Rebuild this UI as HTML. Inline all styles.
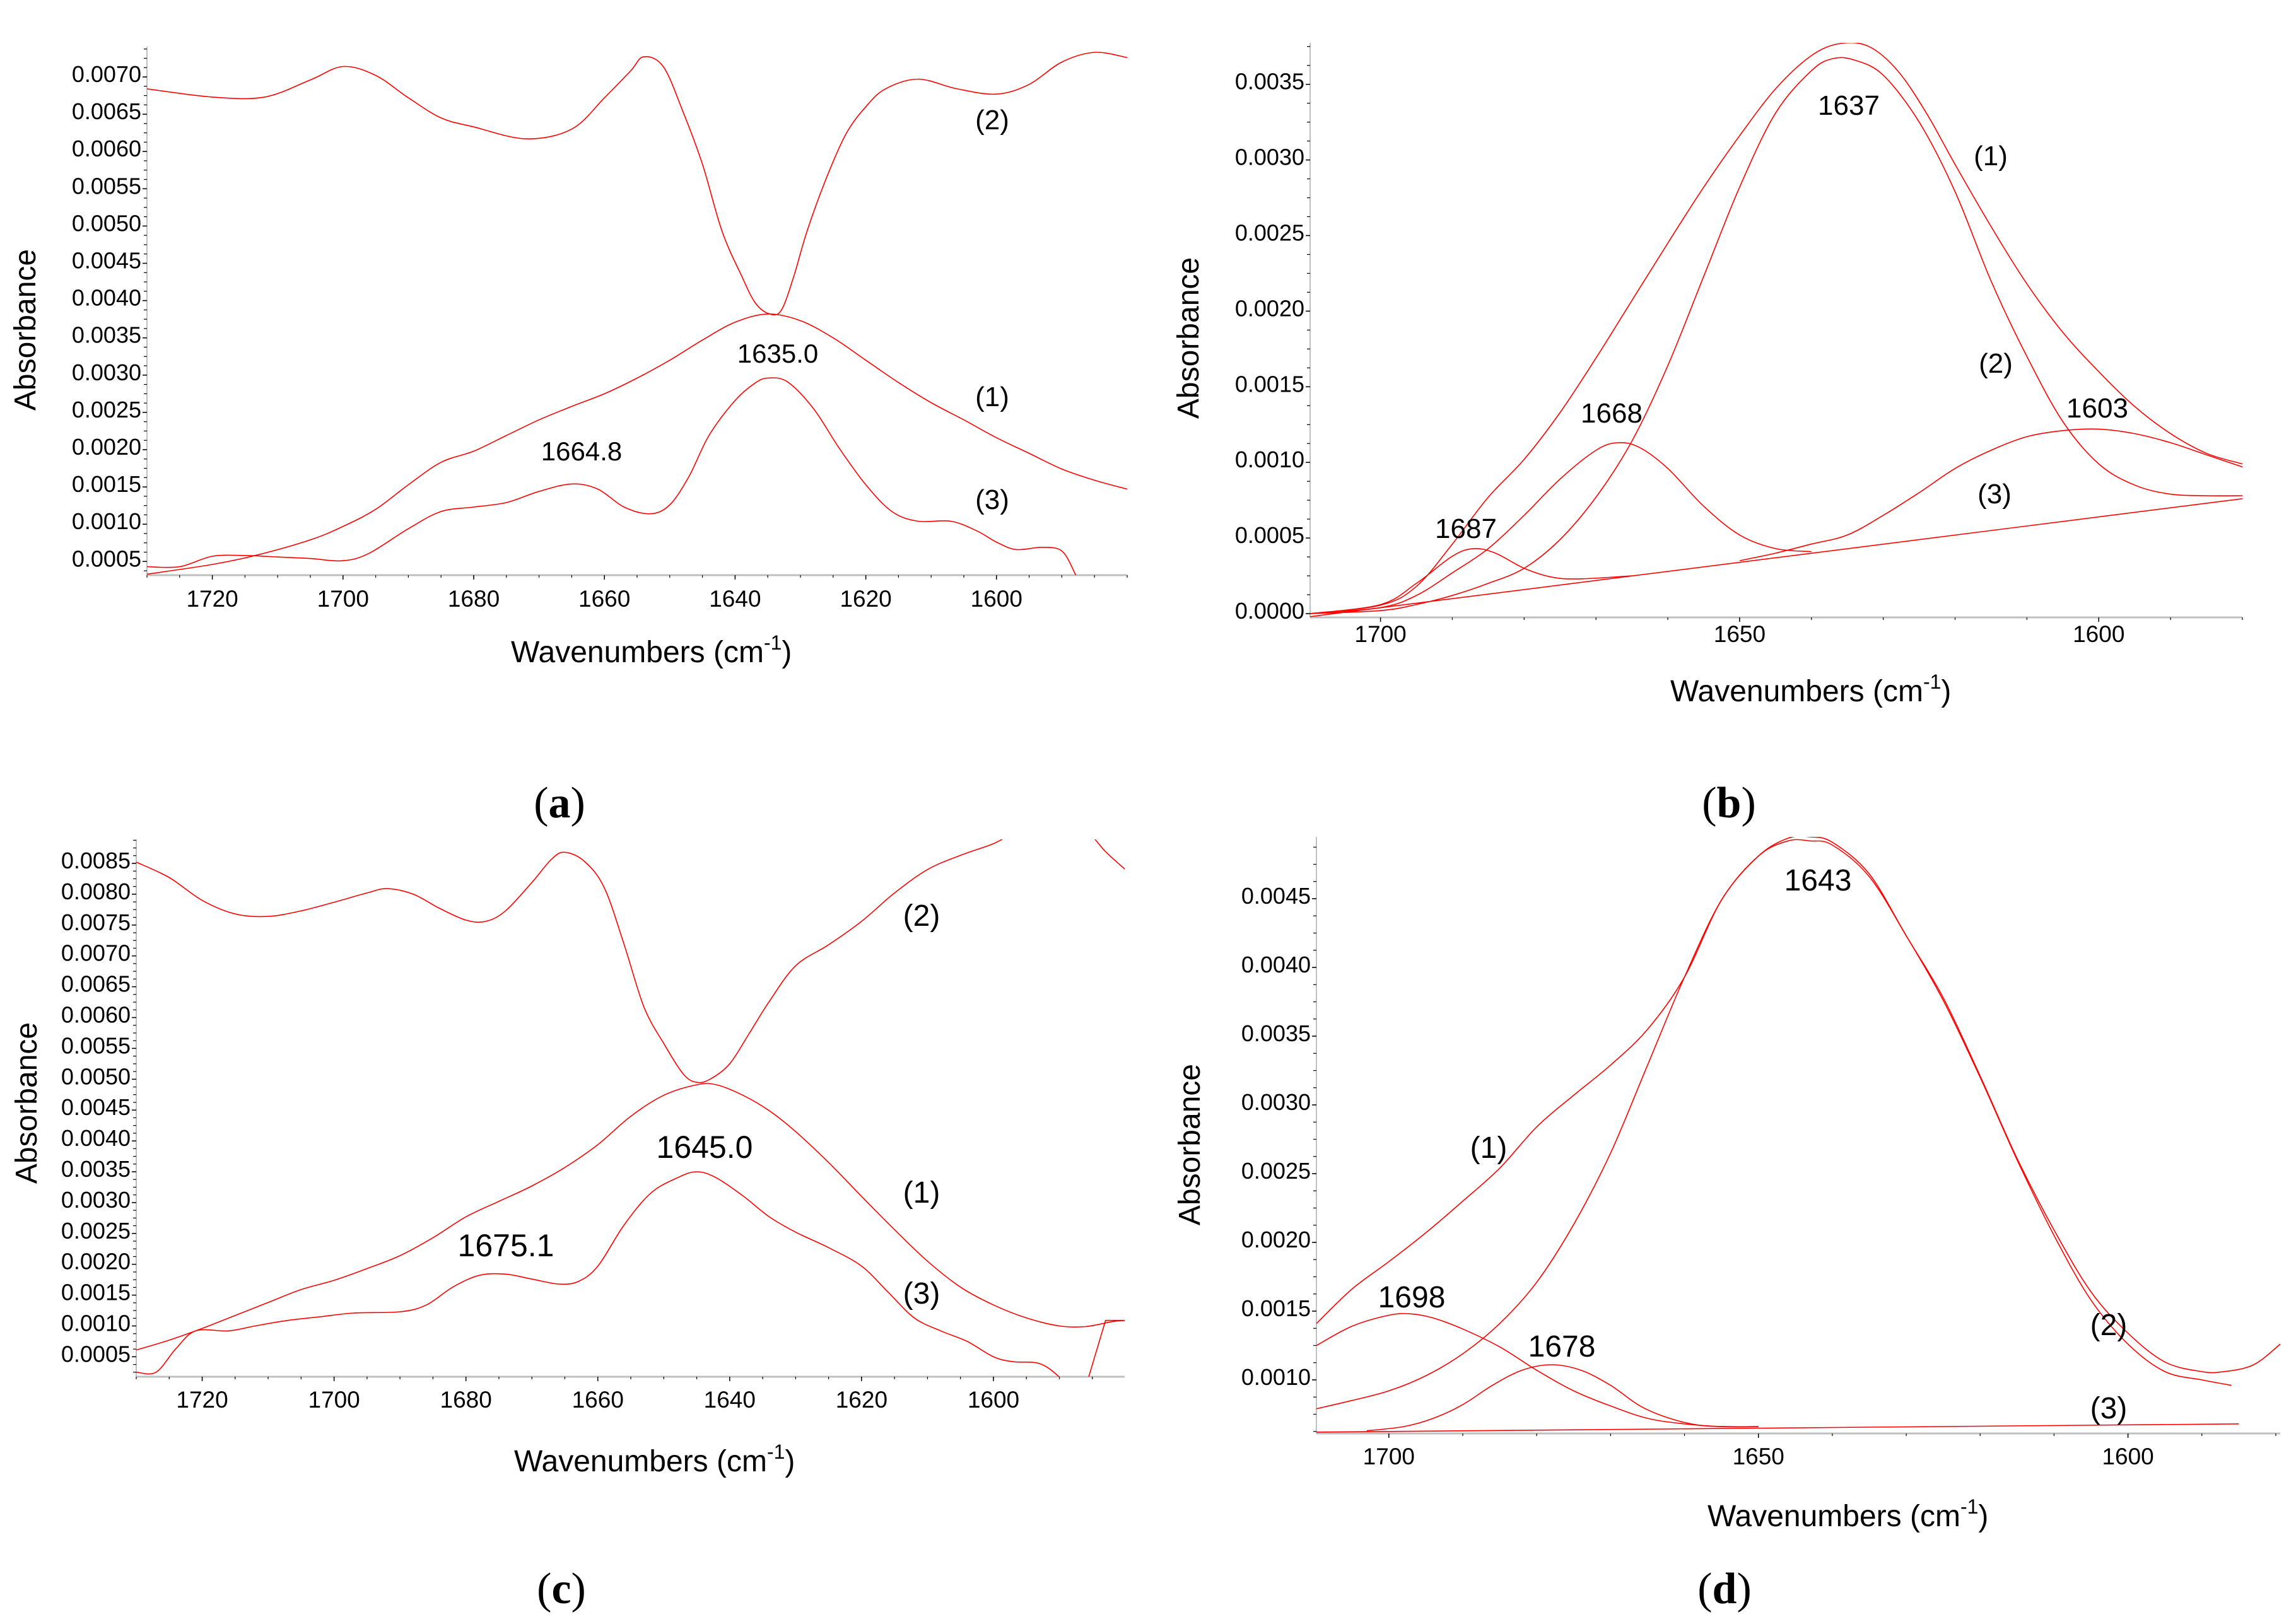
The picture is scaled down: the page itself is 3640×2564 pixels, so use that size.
<!DOCTYPE html>
<html><head><meta charset="utf-8"><style>
html,body{margin:0;padding:0;background:#fff;}
svg{display:block;font-family:"Liberation Sans",sans-serif;}
</style></head><body>
<svg id="fig" width="3640" height="2564" viewBox="0 0 3640 2564" xmlns="http://www.w3.org/2000/svg">
<rect width="3640" height="2564" fill="#fff"/>
</svg>
<script>
// ---------- Panel (a) data ----------
const aWn2=[1730,1720,1712,1705,1700,1695,1690,1685,1680,1672,1665,1660,1656,1654,1651,1648,1645,1642,1639,1637,1635,1633,1631,1629,1626,1623,1620,1617,1612,1606,1600,1595,1590,1585,1580];
const aV2=[.00684,.00673,.00673,.00696,.00714,.00702,.00672,.00645,.00633,.00617,.0063,.00672,.00708,.00727,.00714,.00654,.00583,.00493,.00433,.00398,.00383,.00386,.00433,.00493,.00565,.00624,.0066,.00684,.00697,.00684,.00677,.0069,.0072,.00733,.00726];
const aWn1=[1730,1720,1713,1705,1700,1695,1690,1685,1680,1675,1670,1665,1660,1655,1650,1645,1640,1635,1630,1625,1620,1615,1610,1605,1600,1595,1590,1585,1580];
const aV1=[.00033,.00046,.00059,.00079,.00097,.0012,.00153,.00183,.00198,.00219,.0024,.00258,.00275,.00296,.0032,.00347,.00371,.00382,.00373,.0035,.0032,.0029,.00263,.0024,.00216,.00195,.00174,.00159,.00147];
const aWn3=[1730,1725,1720,1715,1710,1705,1700,1696,1690,1685,1680,1675,1670,1665,1661,1657,1653,1650,1647,1644,1640,1637,1635,1632,1628,1624,1620,1616,1612,1607,1603,1600,1597,1593,1590,1588,1587];
const aV3=[.00043,.00043,.00057,.00058,.00056,.00054,.00051,.00061,.00094,.00117,.00123,.00129,.00144,.00154,.00147,.00123,.00114,.00126,.00165,.00219,.00266,.00289,.00296,.00291,.00255,.00201,.00153,.00117,.00104,.00104,.00091,.00076,.00066,.00069,.00064,.00034,.0001];
const aYTicks=["0.0005","0.0010","0.0015","0.0020","0.0025","0.0030","0.0035","0.0040","0.0045","0.0050","0.0055","0.0060","0.0065","0.0070"];
const aXTicks=["1720","1700","1680","1660","1640","1620","1600"];

// ---------- Panel (b) data ----------
const bWn1=[1709.8,1700,1695,1690,1685,1680,1675,1670,1665,1660,1655,1650,1645,1640,1636,1632,1628,1624,1620,1615,1610,1605,1600,1595,1590,1585,1580];
const bV1=[0,.000056,.00018,.00046,.00077,.00102,.00133,.00169,.00207,.00245,.00282,.00316,.00347,.00369,.00377,.00375,.00359,.00331,.00297,.00256,.00218,.00186,.0016,.00137,.00119,.00106,.00099];
const bWn2=[1709.8,1700,1695,1690,1685,1680,1675,1670,1665,1660,1655,1650,1645,1640,1637,1634,1630,1625,1620,1615,1610,1605,1600,1595,1590,1585,1580];
const bV2=[0,.00002,.00006,.00012,.0002,.0003,.00049,.00077,.00114,.00164,.00223,.00282,.00331,.00359,.00367,.00366,.00356,.00325,.00279,.0022,.0017,.00127,.00099,.00085,.00079,.00078,.00078];
const bWnC1668=[1709.8,1700,1695,1690,1685,1680,1675,1670,1667,1664,1660,1655,1650,1645,1640];
const bVC1668=[0,.00004,.00012,.00027,.00043,.00065,.00089,.00108,.00113,.0011,.00096,.00071,.00052,.00043,.00041];
const bWnC1687=[1709.8,1700,1695,1690,1687,1684,1680,1676,1672,1665];
const bVC1687=[0,.00006,.0002,.00038,.00043,.0004,.0003,.00024,.00023,.00025];
const bWnC1603=[1650,1645,1640,1635,1630,1625,1620,1615,1610,1605,1600,1595,1590,1585,1580];
const bVC1603=[.00035,.0004,.00046,.00052,.00065,.0008,.00096,.00108,.00117,.00121,.00122,.00119,.00113,.00105,.00097];
const bWnBase=[1709.8,1580];
const bVBase=[-.00002,.00076];
const bYTicks=["0.0000","0.0005","0.0010","0.0015","0.0020","0.0025","0.0030","0.0035"];
const bXTicks=["1700","1650","1600"];

// ---------- Panel (c) data ----------
const cWn2=[1730,1725,1720,1715,1710,1705,1700,1695,1692,1688,1684,1680,1677,1674,1670,1667,1665,1662,1659,1656,1653,1650,1647,1645,1643,1640,1637,1634,1630,1625,1620,1615,1610,1605,1600,1596,1590,1586,1583,1580];
const cV2=[.00852,.00827,.0079,.00768,.00764,.00773,.00787,.00802,.00809,.008,.00777,.00758,.00756,.00773,.00819,.00857,.00868,.00853,.0081,.00718,.00617,.00558,.00508,.00495,.005,.00525,.00575,.00626,.00684,.00718,.00756,.00802,.0084,.00863,.00882,.00903,.00915,.00903,.00869,.0084];
const cWn1=[1730,1725,1720,1715,1710,1705,1700,1695,1690,1685,1680,1675,1670,1665,1660,1655,1650,1645,1642,1638,1634,1630,1625,1620,1615,1610,1605,1600,1595,1590,1586,1582,1580];
const cV1=[.00061,.00077,.00096,.00117,.00138,.00159,.00174,.00193,.00214,.00243,.00277,.00302,.00327,.00357,.00394,.0044,.00474,.00491,.00491,.00474,.00449,.00415,.00365,.0031,.00256,.00205,.00163,.00134,.00113,.001,.00099,.00107,.00109];
const cWn3=[1730,1727,1724,1721,1716,1712,1707,1702,1697,1690,1686,1682,1678,1674,1670,1666,1663,1660,1656,1652,1648,1645,1642,1638,1634,1630,1625,1620,1616,1612,1608,1604,1600,1597,1593,1590,1588];
const cV3=[.00025,.00025,.00063,.00092,.00092,.001,.00109,.00115,.00121,.00123,.00134,.00163,.00182,.00184,.00176,.00168,.00172,.00197,.00264,.00315,.0034,.0035,.0034,.00311,.00277,.00252,.00227,.00197,.00155,.00113,.00092,.00075,.0005,.00042,.00039,.00017,-.0001];
const cWn3b=[1586.6,1583,1580];
const cV3b=[-.0002,.00109,.00109];
const cYTicks=["0.0005","0.0010","0.0015","0.0020","0.0025","0.0030","0.0035","0.0040","0.0045","0.0050","0.0055","0.0060","0.0065","0.0070","0.0075","0.0080","0.0085"];
const cXTicks=["1720","1700","1680","1660","1640","1620","1600"];

// ---------- Panel (d) data ----------
const dWn1=[1709.8,1705,1700,1695,1690,1685,1680,1675,1670,1665,1660,1655,1650,1646,1643,1640,1635,1630,1625,1620,1615,1610,1605,1600,1595,1590,1587,1583,1579.4];
const dV1=[.00141,.00166,.00186,.00207,.0023,.00254,.00284,.00307,.00329,.00355,.00393,.00449,.00481,.00494,.00495,.00491,.00468,.00423,.00378,.00321,.00261,.00209,.00164,.00134,.00113,.00106,.00106,.00111,.00126];
const dWn2=[1709.8,1705,1700,1695,1690,1685,1680,1675,1670,1665,1660,1655,1650,1646,1643,1640,1635,1630,1625,1620,1615,1610,1605,1600,1595,1590,1586];
const dV2=[.00079,.00085,.00092,.00103,.00119,.00141,.00171,.00213,.00265,.00329,.00393,.00449,.00481,.00492,.00492,.00489,.00466,.00423,.00376,.0032,.0026,.00205,.00158,.00126,.00106,.001,.00096];
const dWnC1698=[1709.8,1705,1700,1697,1694,1690,1685,1680,1675,1670,1665,1660,1655,1650];
const dVC1698=[.00125,.00139,.00147,.00148,.00145,.00137,.00124,.00107,.00092,.00081,.00072,.00068,.00066,.00066];
const dWnC1678=[1703,1698,1694,1690,1686,1682,1678,1674,1670,1666,1662,1658,1654,1650];
const dVC1678=[.00063,.00066,.00072,.00082,.00096,.00107,.00111,.00107,.00096,.00081,.00072,.00067,.00066,.00066];
const dWnBase=[1709.8,1585];
const dVBase=[.00062,.00068];
const dYTicks=["0.0010","0.0015","0.0020","0.0025","0.0030","0.0035","0.0040","0.0045"];
const dXTicks=["1700","1650","1600"];

const NS="http://www.w3.org/2000/svg";
const svg=document.getElementById('fig');
function mk(tag,attrs,parent){const e=document.createElementNS(NS,tag);for(const k in attrs)e.setAttribute(k,attrs[k]);(parent||svg).appendChild(e);return e;}

function smoothPath(pts){
  let d="M"+pts[0][0].toFixed(1)+","+pts[0][1].toFixed(1);
  for(let i=0;i<pts.length-1;i++){
    const p0=pts[Math.max(0,i-1)],p1=pts[i],p2=pts[i+1],p3=pts[Math.min(pts.length-1,i+2)];
    const c1x=p1[0]+(p2[0]-p0[0])/6,c1y=p1[1]+(p2[1]-p0[1])/6;
    const c2x=p2[0]-(p3[0]-p1[0])/6,c2y=p2[1]-(p3[1]-p1[1])/6;
    d+=" C"+c1x.toFixed(1)+","+c1y.toFixed(1)+" "+c2x.toFixed(1)+","+c2y.toFixed(1)+" "+p2[0].toFixed(1)+","+p2[1].toFixed(1);
  }
  return d;
}

function panel(P){
  const g=mk('g',{});
  
  
  const xs=w=>P.L+(P.wL-w)/(P.wL-P.wR)*(P.R-P.L);
  const ys=v=>P.v0y+(P.v0-v)/P.dv*P.dy;
  const cp=mk('clipPath',{id:'clip-'+P.id},g);
  mk('rect',{x:P.L,y:P.T,width:P.R-P.L,height:P.B-P.T},cp);
  const ya=mk('line',{x1:P.L,y1:P.T,x2:P.L,y2:P.B,stroke:'#c0c0c0','stroke-width':2},g);
  
  
  const xa=mk('line',{x1:P.L,y1:P.B,x2:P.R,y2:P.B,stroke:'#c0c0c0','stroke-width':3},g);
  
  
  P.yt.forEach((t,i)=>{
    const v=parseFloat(t), y=ys(v);
    mk('line',{x1:P.L-7,y1:y,x2:P.L,y2:y,stroke:'#000','stroke-width':1.5},g);
    const tx=mk('text',{x:P.L-9,y:y+8,'font-size':36,'text-anchor':'end',fill:'#000'},g);
    tx.textContent=t;
    
    
  });
  const step=P.dv/4;
  for(let v=parseFloat(P.yt[0])-8*step; v<parseFloat(P.yt[P.yt.length-1])+8*step; v+=step){
    const y=ys(v); if(y<P.T-1||y>P.B) continue;
    mk('line',{x1:P.L-5,y1:y,x2:P.L,y2:y,stroke:'#000','stroke-width':1.2},g);
  }
  P.xt.forEach(t=>{
    const x=xs(parseFloat(t));
    mk('line',{x1:x,y1:P.B,x2:x,y2:P.B+7,stroke:'#000','stroke-width':1.5},g);
    const tx=mk('text',{x:x,y:P.xly,'font-size':37,'text-anchor':'middle',fill:'#000'},g);
    tx.textContent=t;
    
    
  });
  for(let w=Math.ceil(P.wR/P.mx)*P.mx; w<=P.wL; w+=P.mx){
    const x=xs(w); mk('line',{x1:x,y1:P.B,x2:x,y2:P.B+4,stroke:'#000','stroke-width':1.2},g);
  }
  const cg=mk('g',{'clip-path':'url(#clip-'+P.id+')'},g);
  P.series.forEach(s=>{
    const pts=s.w.map((w,i)=>[xs(w),ys(s.v[i])]);
    const p=mk('path',{d:s.lin?("M"+pts.map(q=>q[0].toFixed(1)+","+q[1].toFixed(1)).join(" L")):smoothPath(pts),fill:'none',stroke:'#ff0000','stroke-width':1.6},cg);
    
    
  });
  P.ann.forEach(a=>{
    const tx=mk('text',{x:a[1],y:a[2],'font-size':a[3],'text-anchor':'middle',fill:'#000'},g);
    tx.textContent=a[0];
    
    
  });
  const yt=mk('text',{x:0,y:0,'font-size':48,'text-anchor':'middle',fill:'#000',transform:'translate('+(P.ytx)+','+P.yty+') rotate(-90)'},g);
  yt.textContent='Absorbance';
  
  
  const xt=mk('text',{x:P.xtx,y:P.xty,'font-size':48,'text-anchor':'start',fill:'#000'},g);
  
  
  xt.appendChild(document.createTextNode('Wavenumbers (cm'));
  const sp=mk('tspan',{'font-size':32,dy:-20},xt); sp.textContent='-1';
  const sp2=mk('tspan',{dy:20},xt); sp2.textContent=')';
  const cap=mk('text',{x:P.capx,y:P.capy,'font-size':70,'text-anchor':'middle',fill:'#000','font-family':'Liberation Serif, serif'},g);
  
  
  cap.appendChild(document.createTextNode('('));
  const b=mk('tspan',{'font-weight':'bold'},cap); b.textContent=P.id;
  cap.appendChild(document.createTextNode(')'));
}

panel({id:'a',L:233,R:1787,T:74,B:912,wL:1730,wR:1580,v0:0.0070,v0y:122,dv:0.0005,dy:59.1,mx:5,
  yt:aYTicks,xt:aXTicks,xly:962,ytx:56,yty:523,xtx:810,xty:1050,capx:887,capy:1296,
  series:[{name:'spectrum-2',w:aWn2,v:aV2},{name:'spectrum-1',w:aWn1,v:aV1},{name:'spectrum-3',w:aWn3,v:aV3}],
  ann:[["1635.0",1233,575,42],["1664.8",922,730,42],["(2)",1573,205,44],["(1)",1573,644,44],["(3)",1573,807,44]]});

panel({id:'b',L:2077,R:3555,T:68,B:979,wL:1709.8,wR:1580,v0:0.0,v0y:973,dv:0.0005,dy:119.9,mx:10,
  yt:bYTicks,xt:bXTicks,xly:1018,ytx:1900,yty:536,xtx:2648,xty:1112,capx:2741,capy:1296,
  series:[{name:'envelope-1',w:bWn1,v:bV1},{name:'component-1637',w:bWn2,v:bV2},{name:'component-1668',w:bWnC1668,v:bVC1668},{name:'component-1687',w:bWnC1687,v:bVC1687},{name:'component-1603',w:bWnC1603,v:bVC1603},{name:'baseline-3',w:bWnBase,v:bVBase,lin:true}],
  ann:[["1637",2931,182,44],["(1)",3156,262,44],["(2)",3164,591,44],["1603",3325,662,44],["(3)",3162,798,44],["1668",2555,670,44],["1687",2324,853,44]]});

panel({id:'c',L:216,R:1783,T:1331,B:2183,wL:1730,wR:1580.1,v0:0.0085,v0y:1369,dv:0.0005,dy:48.9,mx:5,
  yt:cYTicks,xt:cXTicks,xly:2232,ytx:58,yty:1749,xtx:815,xty:2333,capx:890,capy:2542,
  series:[{name:'spectrum-2',w:cWn2,v:cV2},{name:'spectrum-1',w:cWn1,v:cV1},{name:'spectrum-3',w:cWn3,v:cV3},{name:'spectrum-3-tail',w:cWn3b,v:cV3b,lin:true}],
  ann:[["1645.0",1117,1836,50],["1675.1",802,1992,50],["(2)",1461,1468,48],["(1)",1461,1907,48],["(3)",1461,2067,48]]});

panel({id:'d',L:2087,R:3615,T:1327,B:2273,wL:1709.8,wR:1579.4,v0:0.0045,v0y:1425,dv:0.0005,dy:109,mx:10,
  yt:dYTicks,xt:dXTicks,xly:2322,ytx:1902,yty:1815,xtx:2707,xty:2420,capx:2734,capy:2542,
  series:[{name:'envelope-1',w:dWn1,v:dV1},{name:'component-1643',w:dWn2,v:dV2},{name:'component-1698',w:dWnC1698,v:dVC1698},{name:'component-1678',w:dWnC1678,v:dVC1678},{name:'baseline-3',w:dWnBase,v:dVBase,lin:true}],
  ann:[["1643",2882,1412,48],["(1)",2360,1836,48],["1698",2238,2073,48],["1678",2476,2151,48],["(2)",3343,2117,48],["(3)",3343,2249,48]]});
</script>
</body></html>
